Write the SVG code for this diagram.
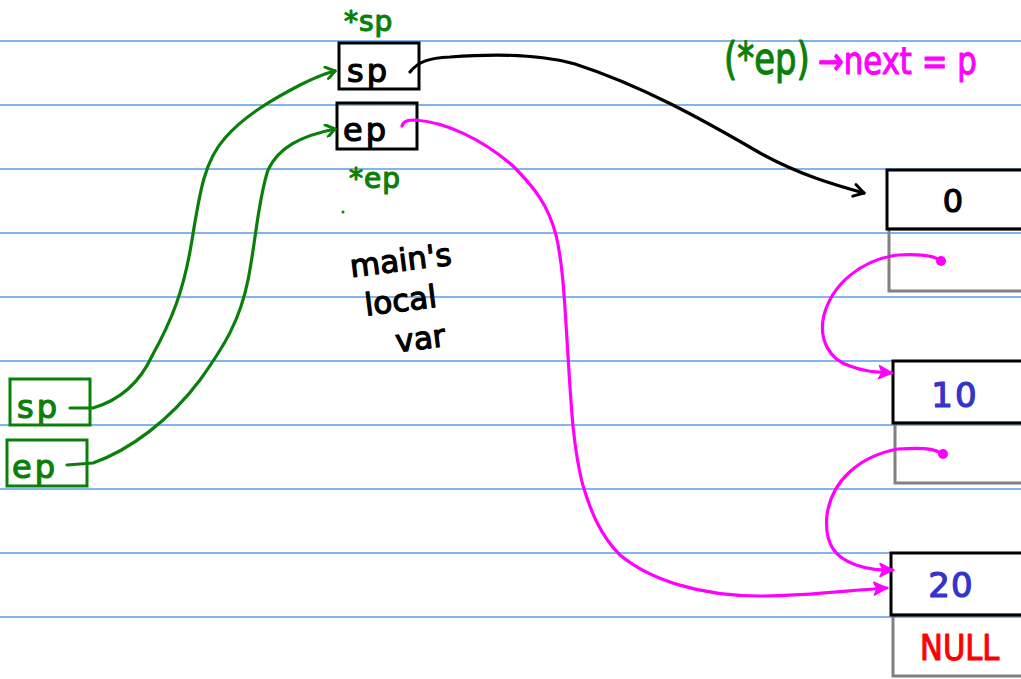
<svg xmlns="http://www.w3.org/2000/svg" width="1021" height="679" viewBox="0 0 1021 679">
  <style>
    .rule { stroke: #5a9be6; stroke-width: 1.3; }
    .box { fill: none; stroke: #000; stroke-width: 3; }
    .gbox { fill: none; stroke: #808080; stroke-width: 3; }
    .vbox { fill: none; stroke: #0a800a; stroke-width: 3; }
    .hand { font-family: "DejaVu Sans", "Liberation Sans", sans-serif; stroke-width: 1.2; stroke-linejoin: round; }
    .tg { fill: #0a800a; stroke: #0a800a; }
    .tk { fill: #000; stroke: #000; }
    .tb { fill: #3434c8; stroke: #3434c8; }
    .tp { fill: #ff00ff; stroke: #ff00ff; }
    .tr { fill: #ff0000; stroke: #ff0000; }
    .ink { fill: none; stroke-width: 3.2; stroke-linecap: round; stroke-linejoin: round; }
    .green { stroke: #0a800a; }
    .black { stroke: #000; }
    .pink { stroke: #ff00ff; }
  </style>
  <defs>
    <marker id="openG" markerWidth="14" markerHeight="14" refX="11" refY="7" orient="auto" markerUnits="userSpaceOnUse">
      <path d="M2,1 L11,7 L3,13" fill="none" stroke="#0a800a" stroke-width="3" stroke-linecap="round" stroke-linejoin="round"/>
    </marker>
    <marker id="openK" markerWidth="16" markerHeight="16" refX="13" refY="8" orient="auto" markerUnits="userSpaceOnUse">
      <path d="M3,2 L13,8 L3,14" fill="none" stroke="#000" stroke-width="3" stroke-linecap="round" stroke-linejoin="round"/>
    </marker>
    <marker id="fillP" markerWidth="16" markerHeight="16" refX="14" refY="8" orient="auto" markerUnits="userSpaceOnUse">
      <path d="M1,1.5 L14,8 L1,14.5 L4,8 Z" fill="#ff00ff" stroke="#ff00ff" stroke-width="1.5" stroke-linejoin="round"/>
    </marker>
  </defs>

  <rect width="1021" height="679" fill="#fff"/>

  <!-- ruled paper lines -->
  <g id="rules">
    <line class="rule" x1="0" y1="41" x2="1021" y2="41"/>
    <line class="rule" x1="0" y1="105" x2="1021" y2="105"/>
    <line class="rule" x1="0" y1="169" x2="1021" y2="169"/>
    <line class="rule" x1="0" y1="233" x2="1021" y2="233"/>
    <line class="rule" x1="0" y1="297" x2="1021" y2="297"/>
    <line class="rule" x1="0" y1="361" x2="1021" y2="361"/>
    <line class="rule" x1="0" y1="425" x2="1021" y2="425"/>
    <line class="rule" x1="0" y1="489" x2="1021" y2="489"/>
    <line class="rule" x1="0" y1="553" x2="1021" y2="553"/>
    <line class="rule" x1="0" y1="617" x2="1021" y2="617"/>
  </g>

  <!-- function parameters sp / ep -->
  <g id="param-sp">
    <rect class="vbox" x="10" y="379" width="80" height="46" fill="#fff"/>
    <text class="hand tg" x="17" y="418" font-size="32" letter-spacing="3">sp</text>
  </g>
  <g id="param-ep">
    <rect class="vbox" x="7" y="440" width="80" height="46" fill="#fff"/>
    <text class="hand tg" x="12" y="478" font-size="32" letter-spacing="3">ep</text>
  </g>

  <!-- main's local pointers -->
  <g id="main-sp">
    <text class="hand tg" x="344" y="31" font-size="28" letter-spacing="1">*sp</text>
    <rect class="box" x="339" y="43" width="80" height="46"/>
    <text class="hand tk" x="347" y="82" font-size="32" letter-spacing="3">sp</text>
  </g>
  <g id="main-ep">
    <rect class="box" x="337" y="103" width="80" height="46"/>
    <text class="hand tk" x="343" y="141" font-size="32" letter-spacing="3">ep</text>
    <text class="hand tg" x="349" y="188" font-size="28" letter-spacing="1">*ep</text>
    <circle cx="343" cy="212" r="1.5" fill="#0a800a"/>
  </g>

  <g id="note-main">
    <text class="hand tk" font-size="31" transform="rotate(-7 410 280)">
      <tspan x="352" y="270">main's</tspan>
      <tspan x="362" y="310">local</tspan>
      <tspan x="388" y="350">var</tspan>
    </text>
  </g>

  <!-- (*ep)->next = p, written condensed -->
  <g id="note-assign">
    <text class="hand tg" font-size="44" transform="translate(724 74) scale(0.77 1)">(*ep)</text>
    <text class="hand tp" font-size="38" transform="translate(818 74) scale(0.81 1)">→next = p</text>
  </g>

  <!-- linked list nodes -->
  <g id="node-0">
    <rect class="gbox" x="889" y="229" width="150" height="62"/>
    <rect class="box" x="887" y="170" width="150" height="59"/>
    <text class="hand tk" x="953" y="212" font-size="32" text-anchor="middle">0</text>
  </g>
  <g id="node-10">
    <rect class="gbox" x="895" y="423" width="150" height="60"/>
    <rect class="box" x="893" y="361" width="150" height="62"/>
    <text class="hand tb" x="955" y="407" font-size="34" text-anchor="middle" letter-spacing="2">10</text>
  </g>
  <g id="node-20">
    <rect class="gbox" x="893" y="615" width="150" height="61"/>
    <rect class="box" x="891" y="553" width="150" height="62"/>
    <text class="hand tb" x="951" y="597" font-size="34" text-anchor="middle" letter-spacing="1">20</text>
    <text class="hand tr" font-size="36" transform="translate(920 660) scale(0.85 1)">NULL</text>
  </g>

  <!-- connectors -->
  <g id="connectors">
    <path class="ink green" marker-end="url(#openG)" d="M70,408 L93,408 C120,400 140,382 152,356 C172,320 184,290 192,240 C200,190 205,160 225,138 C245,115 275,98 300,85 C312,79 322,74 335,71"/>
    <path class="ink green" marker-end="url(#openG)" d="M67,465 L93,463 C130,450 170,420 200,380 C225,345 240,320 248,280 C256,240 258,200 268,170 C278,148 300,136 335,129"/>
    <path class="ink black" marker-end="url(#openK)" d="M410,72 C418,62 428,58 450,57 C490,54 540,54 575,64 C640,85 700,118 760,153 C800,175 835,185 864,193"/>
    <path class="ink pink" marker-end="url(#fillP)" d="M402,126 C404,120 410,120 415,120 C445,122 480,138 512,165 C535,188 548,205 556,235 C562,260 564,290 567,340 C571,400 572,440 582,482 C590,510 600,535 620,555 C650,580 700,596 760,596 C810,596 850,590 887,588"/>
    <path class="ink pink" marker-end="url(#fillP)" d="M942,262 C935,254 915,254 898,255 C860,260 832,285 824,315 C818,340 830,360 850,366 C865,372 878,372 892,373"/>
    <circle cx="941" cy="261" r="5" fill="#ff00ff"/>
    <path class="ink pink" marker-end="url(#fillP)" d="M943,455 C936,447 915,448 898,449 C860,456 832,480 827,515 C824,545 836,558 856,565 C870,570 880,570 893,570"/>
    <circle cx="943" cy="454" r="5" fill="#ff00ff"/>
  </g>
</svg>
